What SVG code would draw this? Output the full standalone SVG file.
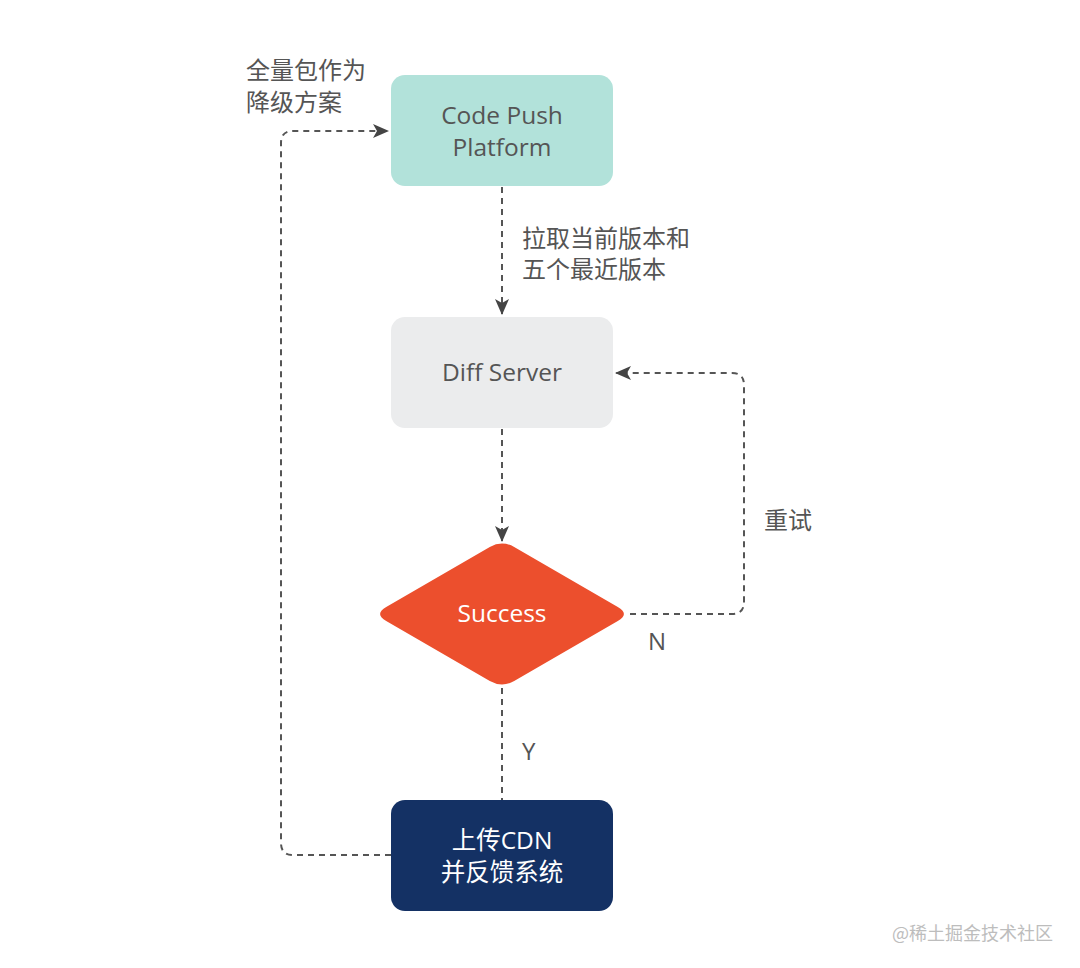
<svg xmlns="http://www.w3.org/2000/svg" width="1080" height="968" viewBox="0 0 1080 968">
<style>
.lbl{font-family:"Open Sans","Noto Sans CJK SC",sans-serif;font-size:24px;fill:#555555}
.nt{font-family:"Open Sans","Noto Sans CJK SC",sans-serif;font-size:24.5px;text-anchor:middle}
.edge{fill:none;stroke:#555555;stroke-width:2;stroke-dasharray:6 5}
.wm{font-family:"Noto Sans CJK SC",sans-serif;font-size:18px;fill:#bdbdbd}
</style>
<defs>
<marker id="arr" viewBox="0 0 16 14" refX="15" refY="7" markerWidth="16" markerHeight="14" markerUnits="userSpaceOnUse" orient="auto">
<path d="M0,0 L16,7 L0,14 L4,7 Z" fill="#444444"/>
</marker>
</defs>
<rect width="1080" height="968" fill="#ffffff"/>
<g id="connectors">
<path class="edge" d="M502,187 L502,314" marker-end="url(#arr)"/>
<path class="edge" d="M502,429 L502,541" marker-end="url(#arr)"/>
<path class="edge" d="M630,614 L732,614 Q744,614 744,602 L744,385 Q744,373 732,373 L616,373" marker-end="url(#arr)"/>
<path class="edge" d="M502,688 L502,800"/>
<path class="edge" d="M391,855 L293,855 Q281,855 281,843 L281,143 Q281,131 293,131 L388,131" marker-end="url(#arr)"/>
</g>
<g id="labels">
<text class="lbl" x="246" y="79">全量包作为</text>
<text class="lbl" x="246" y="111">降级方案</text>
<text class="lbl" x="522" y="247">拉取当前版本和</text>
<text class="lbl" x="522" y="278">五个最近版本</text>
<text class="lbl" x="764" y="529">重试</text>
<text class="lbl" x="648" y="650">N</text>
<text class="lbl" x="522" y="760">Y</text>
</g>
<g id="node-codepush">
<rect x="391" y="75" width="222" height="111" rx="14" fill="#b2e2da"/>
<text class="nt" x="502" y="124" fill="#555555">Code Push</text>
<text class="nt" x="502" y="156" fill="#555555">Platform</text>
</g>
<g id="node-diff">
<rect x="391" y="317" width="222" height="111" rx="14" fill="#ebeced"/>
<text class="nt" x="502" y="381" fill="#555555">Diff Server</text>
</g>
<g id="node-success">
<path d="M386.2,607.1 L489.8,546.9 Q502,540 514.2,546.9 L617.8,607.1 Q630,614 617.8,620.9 L514.2,681.1 Q502,688 489.8,681.1 L386.2,620.9 Q374,614 386.2,607.1 Z" fill="#ec4f2d"/>
<text class="nt" x="502" y="622" fill="#ffffff">Success</text>
</g>
<g id="node-cdn">
<rect x="391" y="800" width="222" height="111" rx="14" fill="#143164"/>
<text class="nt" x="502" y="849" fill="#ffffff">上传CDN</text>
<text class="nt" x="502" y="881" fill="#ffffff">并反馈系统</text>
</g>
<text class="wm" x="892" y="940">@稀土掘金技术社区</text>
</svg>
